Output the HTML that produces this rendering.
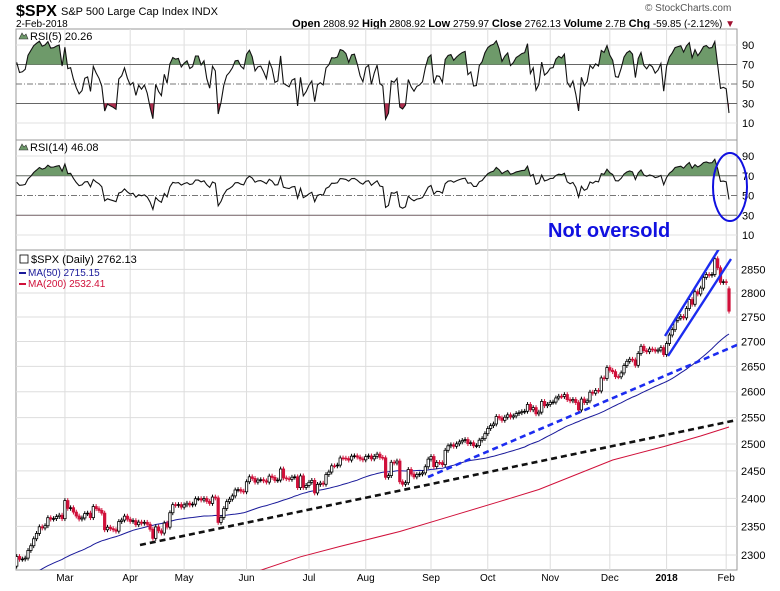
<!DOCTYPE html>
<html><head><meta charset="utf-8"><style>
body{margin:0;background:#fff;width:780px;height:586px;overflow:hidden;font-family:"Liberation Sans","DejaVu Sans",sans-serif}
svg text{font-family:"Liberation Sans","DejaVu Sans",sans-serif}
</style></head><body>
<svg id="chart" width="780" height="586" xmlns="http://www.w3.org/2000/svg">
<text x="16" y="16" font-size="16" font-weight="bold">$SPX</text>
<text x="61" y="15" font-size="11">S&amp;P 500 Large Cap Index  INDX</text>
<text x="16" y="27" font-size="10">2-Feb-2018</text>
<text x="645" y="11" font-size="10" fill="#555">© StockCharts.com</text>
<text x="735" y="27" font-size="10" text-anchor="end"><tspan font-weight="bold" font-size="11">Open</tspan> 2808.92 <tspan font-weight="bold" font-size="11">High</tspan> 2808.92 <tspan font-weight="bold" font-size="11">Low</tspan> 2759.97 <tspan font-weight="bold" font-size="11">Close</tspan> 2762.13 <tspan font-weight="bold" font-size="11">Volume</tspan> 2.7B <tspan font-weight="bold" font-size="11">Chg</tspan> -59.85 (-2.12%) <tspan fill="#a01030">▼</tspan></text>
<g id="g"></g>
</svg>
<script>
const priorCloses=[2198,2203,2204,2213,2202,2205,2199,2191,2192,2204,2212,2241,2246,2259,2256,2271,2253,2262,2258,2263,2271,2265,2261,2264,2268,2250,2249,2239,2258,2270,2269,2277,2269,2269,2275,2271,2275,2268,2272,2264,2271,2265,2281,2298,2297,2295,2281,2279];
const closes=[2279.55,2280.85,2297.42,2292.56,2293.08,2294.67,2307.87,2316.10,2328.25,2337.58,2349.25,2347.22,2351.16,2365.38,2362.82,2363.81,2367.34,2369.75,2363.64,
2395.96,2381.92,2383.12,2375.31,2368.39,2362.98,2364.87,2372.60,2373.47,2365.45,2385.26,2381.38,2378.25,2373.47,2344.02,2348.45,2345.96,2343.98,2341.59,2358.57,2361.13,2368.06,2362.72,
2358.84,2360.16,2352.95,2357.49,2355.54,2357.16,2353.78,2344.93,2328.95,2349.01,2342.19,2338.17,2355.84,2348.69,2374.15,2388.61,2387.45,2388.77,2384.20,
2388.33,2391.17,2388.13,2389.52,2399.29,2399.38,2396.92,2399.63,2394.44,2390.90,2402.32,2400.67,2357.03,2365.72,2381.73,2394.02,2398.42,2404.39,2415.07,2415.82,2412.91,2411.80,
2430.06,2439.07,2436.10,2429.33,2433.14,2433.79,2431.77,2429.39,2440.35,2437.92,2432.46,2433.15,2453.46,2437.03,2435.61,2434.50,2438.30,2439.07,2419.38,2440.69,2419.70,2423.41,
2429.01,2432.54,2409.75,2425.18,2427.43,2425.53,2443.25,2447.83,2459.27,2459.14,2460.61,2473.83,2473.45,2472.54,2469.91,2477.13,2477.83,2475.42,2472.10,2470.30,
2476.35,2477.57,2472.16,2476.83,2480.91,2474.92,2474.02,2438.21,2441.32,2465.84,2464.61,2468.11,2430.01,2425.55,2428.37,2452.51,2444.04,2438.97,2443.05,2444.24,2446.30,2457.59,2471.65,
2476.55,2457.85,2465.54,2465.10,2461.43,2488.11,2496.48,2498.37,2495.62,2500.23,2503.87,2506.65,2508.24,2500.60,2502.22,2496.66,2496.84,2507.04,2510.06,2519.36,
2529.12,2534.58,2537.74,2552.07,2549.33,2544.73,2550.64,2555.24,2550.93,2553.17,2557.64,2559.36,2561.26,2562.10,2575.21,2564.98,2569.13,2557.15,2560.40,2581.07,2572.83,2575.26,
2579.36,2579.85,2587.84,2591.13,2590.64,2594.38,2584.62,2582.30,2584.84,2578.87,2564.62,2585.64,2578.85,2582.14,2599.03,2597.08,2602.42,2601.42,2627.04,2626.07,2647.58,
2642.22,2639.44,2629.57,2629.27,2636.98,2651.50,2659.99,2664.11,2662.85,2652.01,2675.81,2690.16,2681.47,2679.25,2684.57,2683.34,2680.50,2682.62,2687.54,2673.61,
2695.81,2713.06,2723.99,2743.15,2747.71,2751.29,2748.23,2767.56,2786.24,2776.42,2802.56,2798.03,2810.30,2832.97,2839.13,2837.54,2839.25,2872.87,2853.53,2822.43,2823.81,
2821.98,2762.13];
const opens2=[2808.92];
const ma200Idx=[80,88,102,116,137,155,172,186,212,230,243,253];
const ma200Val=[2262,2274,2297,2315,2341,2368,2394,2416,2470,2495,2515,2532];
const monthIdx=[19,42,61,83,105,125,148,168,190,211,231,252];
const monthLbl=["Mar","Apr","May","Jun","Jul","Aug","Sep","Oct","Nov","Dec","2018","Feb"];
const priceTicks=[2300,2350,2400,2450,2500,2550,2600,2650,2700,2750,2800,2850];
const rsiTicks=[90,70,50,30,10];

const NS="http://www.w3.org/2000/svg",G=document.getElementById('g');
function mk(t,a,p){const e=document.createElementNS(NS,t);for(const k in a)e.setAttribute(k,a[k]);(p||G).appendChild(e);return e;}
const L=16,R=737;
const xI=i=>11+i*2.838;
const yP=p=>293+1332*Math.log(2800/p);
const yR5=v=>45+(90-v)*0.975;
const yR14=v=>156+(90-v)*0.9875;
const START=2;

// clip paths
const defs=mk('defs',{});
[['c1',29,140],['c2',140,250],['c3',250,570]].forEach(c=>{const cp=mk('clipPath',{id:c[0]},defs);mk('rect',{x:L,y:c[1],width:R-L,height:c[2]-c[1]},cp);});

// panels
[[29,140,'rsi5-panel'],[140,250,'rsi14-panel'],[250,570,'price-panel']].forEach(p=>{
 const r=mk('rect',{x:L,y:p[0],width:R-L,height:p[1]-p[0],fill:'none',stroke:'#999'});
 
 
});
// vertical grid
monthIdx.forEach((m,k)=>{
 [[29,140],[140,250],[250,570]].forEach(p=>mk('line',{x1:xI(m),x2:xI(m),y1:p[0],y2:p[1],stroke:'#ddd'}));
 const t=mk('text',{x:xI(m),y:581,'font-size':10,'text-anchor':'middle','font-weight':monthLbl[k]==='2018'?'bold':'normal'});
 t.textContent=monthLbl[k];
 
 
});
// rsi grids
function rsiGrid(yf,name){
 rsiTicks.forEach(v=>{
  const y=yf(v);
  if(v===70||v===30) mk('line',{x1:L,x2:R,y1:y,y2:y,stroke:'#666'});
  else if(v===50) mk('line',{x1:L,x2:R,y1:y,y2:y,stroke:'#777','stroke-dasharray':'6,2,1,2'});
  else mk('line',{x1:L,x2:R,y1:y,y2:y,stroke:'#e2e2e2'});
  const t=mk('text',{x:742,y:y+4,'font-size':11});t.textContent=v;
  
  
 });
}
rsiGrid(yR5,'rsi5');rsiGrid(yR14,'rsi14');
// price grid
priceTicks.forEach(p=>{const y=yP(p);mk('line',{x1:L,x2:R,y1:y,y2:y,stroke:'#ddd'});
 const t=mk('text',{x:741,y:y+4,'font-size':11});t.textContent=p;
 
 });

// RSI compute (Wilder)
const all=priorCloses.concat(closes),off=priorCloses.length;
function rsi(n){let ag=0,al=0;const out=[];
 for(let i=1;i<all.length;i++){const d=all[i]-all[i-1],g=Math.max(d,0),l=Math.max(-d,0);
  if(i<=n){ag+=g/n;al+=l/n;}else{ag=(ag*(n-1)+g)/n;al=(al*(n-1)+l)/n;}
  if(i-off>=0)out[i-off]=al===0?100:100-100/(1+ag/al);}
 return out;}
function drawRsi(vals,yf,clip,name){
 const pts=[];for(let i=START;i<closes.length;i++)pts.push([xI(i),yf(vals[i])]);
 const d=pts.map((p,k)=>(k?'L':'M')+p[0].toFixed(1)+','+p[1].toFixed(1)).join('');
 const g=mk('g',{'clip-path':'url(#'+clip+')'});
 const y70=yf(70),y30=yf(30);
 const cpA=mk('clipPath',{id:clip+'a'},defs);mk('rect',{x:L,y:0,width:R-L,height:y70},cpA);
 const cpB=mk('clipPath',{id:clip+'b'},defs);mk('rect',{x:L,y:y30,width:R-L,height:200},cpB);
 const f1=mk('path',{d:d+'L'+pts[pts.length-1][0]+','+y70+'L'+pts[0][0]+','+y70+'Z',fill:'#6e9a6a','clip-path':'url(#'+clip+'a)'},g);
 const f2=mk('path',{d:d+'L'+pts[pts.length-1][0]+','+y30+'L'+pts[0][0]+','+y30+'Z',fill:'#b03050','clip-path':'url(#'+clip+'b)'},g);
 const ln=mk('path',{d:d,fill:'none',stroke:'#111','stroke-width':1.1},g);
 
 
 return vals;}
const r5=drawRsi(rsi(5),yR5,'c1','rsi5');
const r14=drawRsi(rsi(14),yR14,'c2','rsi14');
let t=mk('text',{x:30,y:40,'font-size':11});t.textContent='RSI(5) '+r5[closes.length-1].toFixed(2);

t=mk('text',{x:30,y:151,'font-size':11});t.textContent='RSI(14) '+r14[closes.length-1].toFixed(2);

mk('path',{d:'M19,39 l3,-6 l2,3 l2,-2 l2,5 z',fill:'#6e9a6a',stroke:'#333','stroke-width':.6});
mk('path',{d:'M19,150 l3,-6 l2,3 l2,-2 l2,5 z',fill:'#6e9a6a',stroke:'#333','stroke-width':.6});

// price panel
const pg=mk('g',{'clip-path':'url(#c3)'});
// MA200
let d='';ma200Idx.forEach((i,k)=>d+=(k?'L':'M')+xI(i).toFixed(1)+','+yP(ma200Val[k]).toFixed(1));
let e=mk('path',{d:d,fill:'none',stroke:'#d0103a','stroke-width':1},pg);

// MA50
d='';let first=true;
for(let i=START;i<closes.length;i++){const j=i+off;let s=0;for(let k=j-49;k<=j;k++)s+=all[k];
 d+=(first?'M':'L')+xI(i).toFixed(1)+','+yP(s/50).toFixed(1);first=false;}
e=mk('path',{d:d,fill:'none',stroke:'#1a1a9a','stroke-width':1},pg);

// candles
for(let i=START;i<closes.length;i++){
 const c=closes[i],pc=closes[i-1],o=(i===closes.length-1)?opens2[0]:pc;
 const up=c>=pc,hollow=c>o;
 const hi=Math.max(o,c)*1.0018,lo=Math.min(o,c)*0.9982;
 const col=up?'#000':'#d0103a';const x=xI(i);
 const cg=mk('g',{},pg);
 
 
 mk('line',{x1:x,x2:x,y1:yP(hi),y2:yP(lo),stroke:col,'stroke-width':1},cg);
 const yt=yP(Math.max(o,c)),yb=yP(Math.min(o,c));
 mk('rect',{x:x-1.2,y:yt,width:2.4,height:Math.max(yb-yt,0.8),fill:hollow?'#fff':col,stroke:col,'stroke-width':0.8},cg);
}
// annotations
e=mk('line',{x1:140,y1:545,x2:737,y2:420,stroke:'#111','stroke-width':2.6,'stroke-dasharray':'6,4'},pg);

e=mk('line',{x1:428,y1:477,x2:737,y2:345,stroke:'#1c2cf0','stroke-width':2.6,'stroke-dasharray':'6,4'},pg);

e=mk('line',{x1:665,y1:336,x2:722,y2:244,stroke:'#1c2cf0','stroke-width':2.4},pg);

e=mk('line',{x1:668,y1:356,x2:731,y2:259,stroke:'#1c2cf0','stroke-width':2.4},pg);

e=mk('ellipse',{cx:730,cy:187,rx:17,ry:34,fill:'none',stroke:'#1010e0','stroke-width':2});

e=mk('text',{x:548,y:237,'font-size':20,'font-weight':'bold',fill:'#1010e0'});e.textContent='Not oversold';

// legend
e=mk('text',{x:31,y:263,'font-size':11});e.textContent='$SPX (Daily) '+closes[closes.length-1].toFixed(2);

mk('rect',{x:20,y:255,width:8,height:8,fill:'#fff',stroke:'#000','stroke-width':.8});
mk('line',{x1:19,x2:26,y1:273,y2:273,stroke:'#1a1a9a','stroke-width':2});
e=mk('text',{x:28,y:276,'font-size':10,fill:'#1a1a9a'});e.textContent='MA(50) 2715.15';

mk('line',{x1:19,x2:26,y1:284,y2:284,stroke:'#d0103a','stroke-width':2});
e=mk('text',{x:28,y:287,'font-size':10,fill:'#d0103a'});e.textContent='MA(200) 2532.41';

</script>
</body></html>
